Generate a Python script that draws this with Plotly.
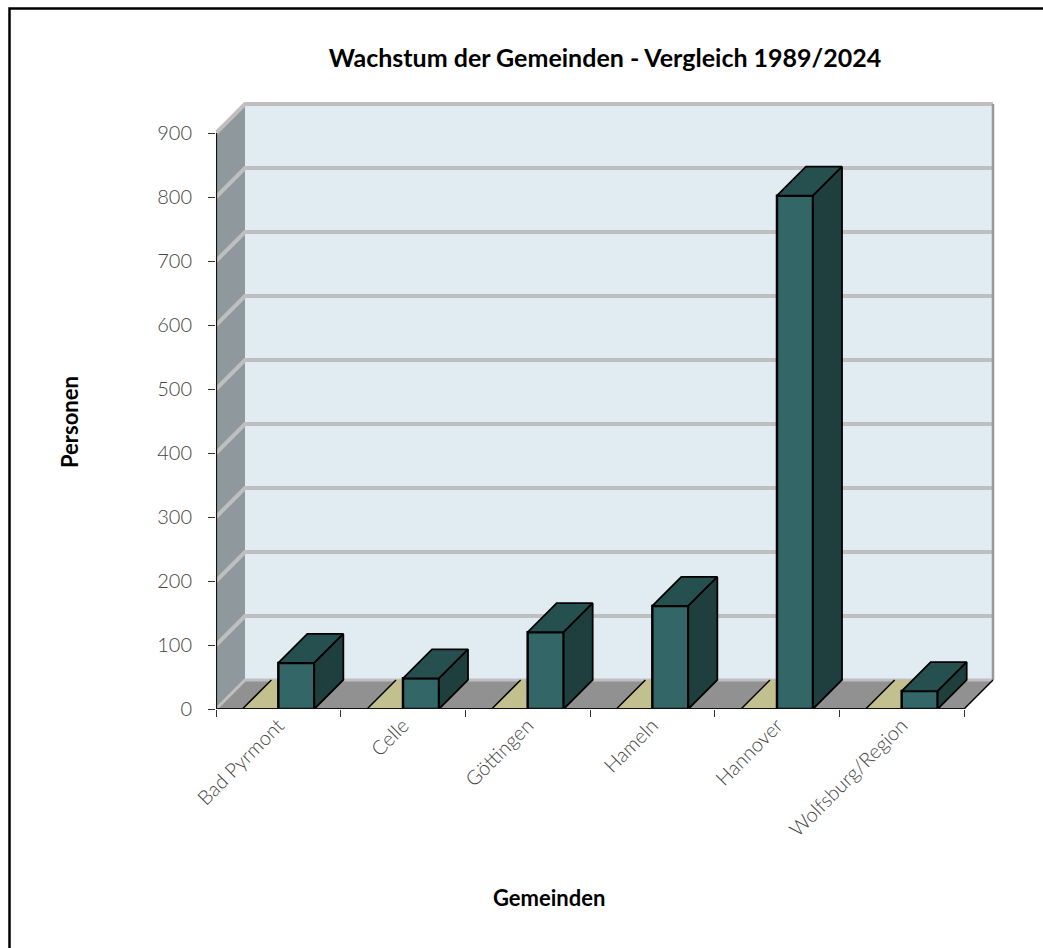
import plotly.graph_objects as go

categories = ["Bad Pyrmont", "Celle", "Göttingen", "Hameln", "Hannover", "Wolfsburg/Region"]
series_hidden = [0, 0, 0, 0, 0, 0]
series_values = [72, 48, 120, 161, 802, 28]
y_ticks = [0, 100, 200, 300, 400, 500, 600, 700, 800, 900]

W, H = 1043, 948
PX_L, PX_R, PX_T, PX_B = 216, 1000, 96, 709
PX_PER_CAT = 748 / 6
PX_PER_UNIT = 576 / 900
DX = 29 / PX_PER_CAT
DY = 29 / PX_PER_UNIT
BW = 36 / PX_PER_CAT
N = len(categories)
YMAX = y_ticks[-1]
xr = [0, (PX_R - PX_L) / PX_PER_CAT]
yr = [0, (PX_B - PX_T) / PX_PER_UNIT]
pw, ph = PX_R - PX_L, PX_B - PX_T

C_FRONT, C_TOP, C_SIDE = "#336666", "#265050", "#1f3f3f"
C_ZERO, C_FLOOR, C_LEFT, C_BACK, C_GRID = "#c2c08e", "#919191", "#8f999d", "#e1ebf2", "#bfbfbf"
FONT = "Lato"

fig = go.Figure()

def poly(xs, ys, fill, line="rgba(0,0,0,0)", width=0, xaxis="x"):
    fig.add_trace(go.Scatter(x=xs, y=ys, mode="lines", fill="toself", fillcolor=fill,
                             line=dict(color=line, width=width), hoverinfo="skip",
                             showlegend=False, cliponaxis=False, xaxis=xaxis))

def seg(xs, ys, color, width, xaxis="x"):
    fig.add_trace(go.Scatter(x=xs, y=ys, mode="lines", line=dict(color=color, width=width),
                             hoverinfo="skip", showlegend=False, cliponaxis=False, xaxis=xaxis))

# walls and floor
poly([0, DX, DX, 0, 0], [0, DY, YMAX + DY, YMAX, 0], C_LEFT)
poly([DX, N + DX, N + DX, DX, DX], [DY, DY, YMAX + DY, YMAX + DY, DY], C_BACK)
poly([0, DX, N + DX, N, 0], [0, DY, DY, 0, 0], C_FLOOR)
for t in y_ticks:
    seg([0, DX, N + DX], [t, t + DY, t + DY], C_GRID, 4 if t else 3)
seg([N + DX, N + DX], [DY, YMAX + DY], "#999999", 2.5)
seg([N, N + DX], [0, DY], "#000000", 1.5)

# hidden zero-height series lying on the floor
for i, v in enumerate(series_hidden):
    x0 = i + 0.5 - BW
    x1 = i + 0.5
    poly([x0, x0 + DX, x1 + DX, x1, x0], [v, v + DY, v + DY, v, v], C_ZERO)
    seg([x0, x0 + DX], [v, v + DY], "#000000", 1.5)

# front faces of the visible series
fig.add_trace(go.Bar(x=[i + 0.5 for i in range(N)], y=series_values, width=BW, offset=0,
                     marker=dict(color=C_FRONT, line=dict(color="#000000", width=2.5)),
                     hoverinfo="skip", showlegend=False, xaxis="x2", cliponaxis=False))

# top and side faces
for i, v in enumerate(series_values):
    x0 = i + 0.5
    x1 = x0 + BW
    poly([x0, x0 + DX, x1 + DX, x1, x0], [v, v + DY, v + DY, v, v], C_TOP, "#000000", 1.8, "x2")
    poly([x1, x1 + DX, x1 + DX, x1, x1], [0, DY, v + DY, v, 0], C_SIDE, "#000000", 1.8, "x2")

# axis lines
seg([0, N], [0, 0], "#111111", 2.2, "x2")
seg([0, 0], [0, YMAX], "#111111", 2.2, "x2")

tick_font = dict(family=FONT, size=20, color="#444444", weight=300)
title_font = dict(family=FONT, size=22, color="#000000", weight=700)

fig.update_layout(
    width=W, height=H, autosize=False,
    margin=dict(l=PX_L, r=W - PX_R, t=PX_T, b=H - PX_B, pad=0),
    paper_bgcolor="#ffffff", plot_bgcolor="#ffffff", showlegend=False, barmode="overlay",
    title=dict(text="Wachstum der Gemeinden - Vergleich 1989/2024", x=605 / W, y=1 - 58 / H,
               xref="container", yref="container", xanchor="center", yanchor="middle",
               font=dict(family=FONT, size=25, color="#000000", weight=700)),
    xaxis=dict(range=xr, tickmode="array", tickvals=list(range(N + 1)), ticktext=[""] * (N + 1),
               ticks="outside", ticklen=7, tickwidth=1, tickcolor="#333333",
               showgrid=False, zeroline=False, showline=False, fixedrange=True),
    xaxis2=dict(range=xr, overlaying="x", anchor="y", tickmode="array",
                tickvals=[i + 0.5 for i in range(N)], ticktext=categories, tickangle=-45,
                ticks="", tickfont=tick_font, showgrid=False, zeroline=False, showline=False,
                fixedrange=True),
    yaxis=dict(range=yr, tickmode="array", tickvals=y_ticks, ticktext=[str(t) for t in y_ticks],
               ticks="outside", ticklen=7, tickwidth=1, tickcolor="#333333",
               ticklabelstandoff=12, tickfont=tick_font, showgrid=False, zeroline=False,
               showline=False, fixedrange=True),
    annotations=[
        dict(text="Personen", x=(69 - PX_L) / pw, y=(PX_B - 422) / ph, xref="paper", yref="paper",
             textangle=-90, showarrow=False, font=title_font, xanchor="center", yanchor="middle"),
        dict(text="Gemeinden", x=(549 - PX_L) / pw, y=(PX_B - 897) / ph, xref="paper", yref="paper",
             showarrow=False, font=title_font, xanchor="center", yanchor="middle"),
    ],
)

# outer frame, open towards the right and bottom picture edges
fig.layout.shapes = [
    dict(type="path", xref="paper", yref="paper", layer="above",
         path=f"M {(9.5 - PX_L) / pw} {(PX_B - H) / ph} L {(9.5 - PX_L) / pw} {(PX_B - 8.5) / ph} "
              f"L {(W - PX_L) / pw} {(PX_B - 8.5) / ph}",
         line=dict(color="#000000", width=2.5)),
]

fig.write_html("out.html", config={"displayModeBar": False},
               post_script="document.body.style.margin='0';document.body.style.overflow='hidden';")
